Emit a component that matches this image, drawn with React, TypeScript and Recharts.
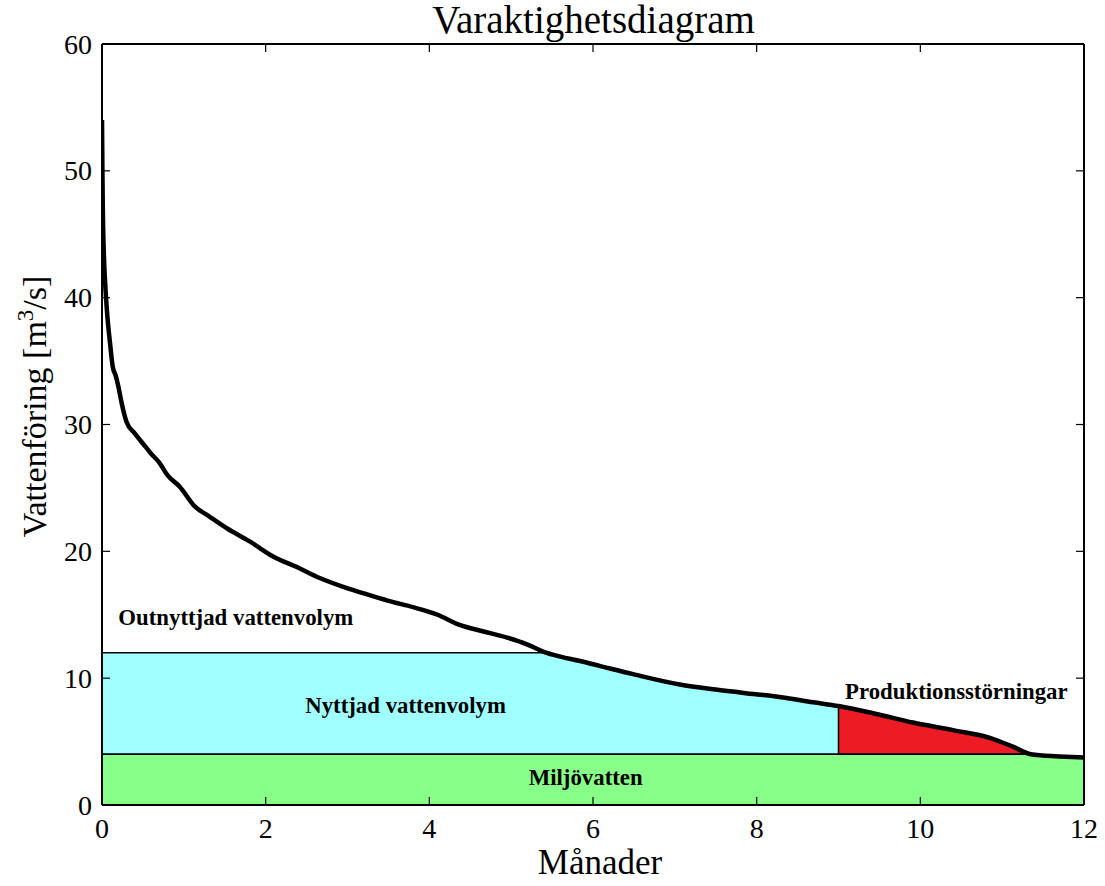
import React from 'react';
import {
  ComposedChart,
  Line,
  Area,
  XAxis,
  YAxis,
  ReferenceLine,
  ReferenceDot,
  Label,
} from 'recharts';

// ---- data ----
const MONTHS = [
  0, 0.005, 0.01, 0.02, 0.04, 0.06, 0.1, 0.13, 0.17, 0.2, 0.24, 0.3, 0.4, 0.5, 0.6, 0.7, 0.8,
  0.95, 1.14, 1.3, 1.53, 1.8, 2.09, 2.4, 2.66, 2.95, 3.24, 3.5, 3.8, 4.1, 4.37, 4.65, 4.95, 5.2,
  5.39, 5.6, 5.84, 6.09, 6.5, 7.06, 7.5, 7.96, 8.3, 8.69, 9.0, 9.45, 9.91, 10.4, 10.85, 11.13,
  11.35, 11.5, 11.7, 12,
];
const FLOW = [
  54, 50, 47, 44, 41, 39, 36.3, 34.6, 33.8, 33, 31.7, 30.2, 29.3, 28.5, 27.7, 27, 26,
  25.1, 23.5, 22.8, 21.8, 20.8, 19.6, 18.7, 17.9, 17.2, 16.6, 16.1, 15.6, 15.0, 14.2, 13.7, 13.2, 12.65,
  12.1, 11.7, 11.35, 10.95, 10.3, 9.5, 9.1, 8.75, 8.5, 8.1, 7.8, 7.2, 6.5, 5.9, 5.3, 4.6,
  4.0, 3.9, 3.83, 3.75,
];
const ENV_FLOW = 4; // Miljövatten
const MAX_USE = 12; // turbine capacity
const OUTAGE_START = 9; // Produktionsstörningar start month
const X_TICKS = [0, 2, 4, 6, 8, 10, 12];
const Y_TICKS = [0, 10, 20, 30, 40, 50, 60];

const TITLE = 'Varaktighetsdiagram';
const X_LABEL = 'Månader';

const LABELS = [
  { text: 'Outnyttjad vattenvolym', x: 0.2, y: 14.2, anchor: 'start' },
  { text: 'Nyttjad vattenvolym', x: 3.71, y: 7.26, anchor: 'middle' },
  { text: 'Miljövatten', x: 5.91, y: 1.6, anchor: 'middle' },
  { text: 'Produktionsstörningar', x: 10.44, y: 8.36, anchor: 'middle' },
];

const COLORS = {
  green: '#88ff88',
  cyan: '#a0ffff',
  red: '#ed1c24',
};

const rows = MONTHS.map((m, i) => {
  const q = FLOW[i];
  return {
    m,
    q,
    green: [0, Math.min(q, ENV_FLOW)],
    cyan: m <= OUTAGE_START ? [ENV_FLOW, Math.min(q, MAX_USE)] : null,
    red: m >= OUTAGE_START && q >= ENV_FLOW ? [ENV_FLOW, q] : null,
  };
});
const flowAtOutage = FLOW[MONTHS.indexOf(OUTAGE_START)];
const outageEnd = MONTHS[FLOW.indexOf(ENV_FLOW)];

const SERIF = '"Liberation Serif", "DejaVu Serif", serif';
const TICK_FONT = 28;

const LeftTick = (props: any) => {
  const { x, y, payload } = props;
  return (
    <g>
      <line x1={x} x2={x + 8} y1={y} y2={y} stroke="#000" strokeWidth={1.2} />
      <text x={x - 10} y={y} dy="0.34em" textAnchor="end" fontFamily={SERIF} fontSize={TICK_FONT} fill="#000">
        {payload.value}
      </text>
    </g>
  );
};
const RightTick = (props: any) => {
  const { x, y } = props;
  return <line x1={x} x2={x - 8} y1={y} y2={y} stroke="#000" strokeWidth={1.2} />;
};
const BottomTick = (props: any) => {
  const { x, y, payload } = props;
  return (
    <g>
      <line x1={x} x2={x} y1={y} y2={y - 8} stroke="#000" strokeWidth={1.2} />
      <text x={x} y={y + 33} textAnchor="middle" fontFamily={SERIF} fontSize={TICK_FONT} fill="#000">
        {payload.value}
      </text>
    </g>
  );
};
const TopTick = (props: any) => {
  const { x, y } = props;
  return <line x1={x} x2={x} y1={y} y2={y + 8} stroke="#000" strokeWidth={1.2} />;
};

const YTitle = (props: any) => {
  const vb = props.viewBox || {};
  const cx = (vb.x ?? 101) + (vb.width ?? 1) - 56;
  const cy = (vb.y ?? 44) + (vb.height ?? 761) / 2 - 18;
  return (
    <text
      x={cx}
      y={cy}
      transform={`rotate(-90 ${cx} ${cy})`}
      textAnchor="middle"
      fontFamily={SERIF}
      fontSize={34}
      fill="#000"
    >
      <tspan>Vattenföring [m</tspan>
      <tspan dy={-13} fontSize={23}>3</tspan>
      <tspan dy={13}>/s]</tspan>
    </text>
  );
};
const XTitle = (props: any) => {
  const vb = props.viewBox || {};
  const cx = (vb.x ?? 102) + (vb.width ?? 982) / 2 + 7;
  const cy = (vb.y ?? 805) + 69;
  return (
    <text x={cx} y={cy} textAnchor="middle" fontFamily={SERIF} fontSize={35} fill="#000">
      {X_LABEL}
    </text>
  );
};

const makeRegionLabel = (text: string, anchor: string) => (props: any) => {
  const vb = props.viewBox || {};
  const x = (vb.x ?? 0) + (vb.width ?? 0) / 2;
  const y = (vb.y ?? 0) + (vb.height ?? 0) / 2;
  return (
    <text x={x} y={y} textAnchor={anchor as any} fontFamily={SERIF} fontWeight="bold" fontSize={22.8} fill="#000">
      {text}
    </text>
  );
};

const axisLine = { stroke: '#000', strokeWidth: 2 };

export default function App() {
  return (
    <div style={{ position: 'absolute', left: 0, top: 0, width: 1105, height: 886, background: '#fff' }}>
      <div
        style={{
          position: 'absolute',
          left: 0,
          top: -3,
          width: 1187,
          textAlign: 'center',
          fontFamily: SERIF,
          fontSize: 39,
          lineHeight: '46px',
          color: '#000',
        }}
      >
        {TITLE}
      </div>
      <ComposedChart
        width={1105}
        height={886}
        data={rows}
        margin={{ top: 43, right: 20, bottom: 80, left: 101 }}
      >
        <XAxis
          xAxisId="b"
          dataKey="m"
          type="number"
          domain={[0, 12]}
          ticks={X_TICKS}
          allowDataOverflow
          height={1}
          tickSize={0}
          tickMargin={0}
          tickLine={false}
          tick={<BottomTick />}
          axisLine={axisLine}
          interval={0}
        >
          <Label content={<XTitle />} />
        </XAxis>
        <XAxis
          xAxisId="t"
          orientation="top"
          dataKey="m"
          type="number"
          domain={[0, 12]}
          ticks={X_TICKS}
          allowDataOverflow
          height={1}
          tickSize={0}
          tickMargin={0}
          tickLine={false}
          tick={<TopTick />}
          axisLine={axisLine}
          interval={0}
        />
        <YAxis
          yAxisId="l"
          type="number"
          domain={[0, 60]}
          ticks={Y_TICKS}
          allowDataOverflow
          width={1}
          tickSize={0}
          tickMargin={0}
          tickLine={false}
          tick={<LeftTick />}
          axisLine={axisLine}
          interval={0}
        >
          <Label content={<YTitle />} />
        </YAxis>
        <YAxis
          yAxisId="r"
          orientation="right"
          type="number"
          domain={[0, 60]}
          ticks={Y_TICKS}
          allowDataOverflow
          width={1}
          tickSize={0}
          tickMargin={0}
          tickLine={false}
          tick={<RightTick />}
          axisLine={axisLine}
          interval={0}
        />
        <Area
          xAxisId="b"
          yAxisId="l"
          dataKey="green"
          type="monotone"
          fill={COLORS.green}
          fillOpacity={1}
          stroke="none"
          isAnimationActive={false}
          activeDot={false}
          dot={false}
        />
        <Area
          xAxisId="b"
          yAxisId="l"
          dataKey="cyan"
          type="monotone"
          fill={COLORS.cyan}
          fillOpacity={1}
          stroke="#000"
          strokeWidth={1.5}
          isAnimationActive={false}
          activeDot={false}
          dot={false}
        />
        <Area
          xAxisId="b"
          yAxisId="l"
          dataKey="red"
          type="monotone"
          fill={COLORS.red}
          fillOpacity={1}
          stroke="#000"
          strokeWidth={1.5}
          isAnimationActive={false}
          activeDot={false}
          dot={false}
        />
        <ReferenceLine
          xAxisId="b"
          yAxisId="l"
          segment={[
            { x: OUTAGE_START, y: ENV_FLOW },
            { x: OUTAGE_START, y: flowAtOutage },
          ]}
          stroke="#000"
          strokeWidth={1.5}
        />
        <ReferenceLine
          xAxisId="b"
          yAxisId="l"
          segment={[
            { x: 0, y: ENV_FLOW },
            { x: outageEnd, y: ENV_FLOW },
          ]}
          stroke="#000"
          strokeWidth={1.5}
        />
        <Line
          xAxisId="b"
          yAxisId="l"
          dataKey="q"
          type="monotone"
          stroke="#000"
          strokeWidth={4.5}
          dot={false}
          activeDot={false}
          isAnimationActive={false}
        />
        {LABELS.map((l) => (
          <ReferenceDot
            key={l.text}
            xAxisId="b"
            yAxisId="l"
            x={l.x}
            y={l.y}
            r={0}
            fill="none"
            stroke="none"
            label={makeRegionLabel(l.text, l.anchor)}
          />
        ))}
      </ComposedChart>
    </div>
  );
}
